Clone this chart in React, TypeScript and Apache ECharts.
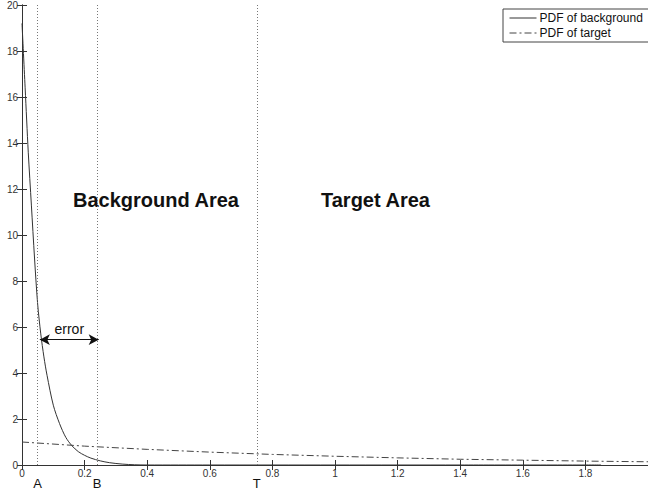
import React, { useEffect, useRef } from "react";
import * as echarts from "echarts";

const FONT = "'Liberation Sans', Arial, sans-serif";

// PDF of background
const bgX = [0, 0.01, 0.02, 0.03, 0.04, 0.05, 0.06, 0.07, 0.08, 0.1, 0.12, 0.14, 0.16, 0.18, 0.2, 0.22, 0.25, 0.28, 0.32, 0.36, 0.4, 0.6, 1.0, 1.4, 1.85];
const bgY = [19.2, 16.4, 13.6, 11.3, 9.0, 7.0, 5.7, 4.7, 3.9, 2.6, 1.8, 1.2, 0.83, 0.58, 0.42, 0.3, 0.18, 0.1, 0.04, 0.01, 0, 0, 0, 0, 0];

// PDF of target
const tgX = [0, 0.2, 0.4, 0.6, 0.8, 1.0, 1.2, 1.4, 1.6, 1.8, 2.0];
const tgY = [1.0, 0.82, 0.68, 0.56, 0.46, 0.38, 0.31, 0.25, 0.21, 0.17, 0.14];

// Threshold markers
const markNames = ["A", "B", "T"];
const markX = [0.05, 0.245, 0.75];

// error arrow
const errorFrom = [0.057, 5.45];
const errorTo = [0.245, 5.45];

const seriesNames = ["PDF of background", "PDF of target"];

export default function App() {
  const ref = useRef<HTMLDivElement>(null);
  useEffect(() => {
    const chart = echarts.init(ref.current!, null, { renderer: "svg" });
    const axisLine = { show: true, lineStyle: { color: "#333", width: 1 } };
    const option: any = {
      animation: false,
      backgroundColor: "#fff",
      textStyle: { fontFamily: FONT },
      grid: { left: 22, top: 5, width: 630, height: 460, containLabel: false },
      legend: {
        left: 503,
        top: 9,
        orient: "vertical",
        itemWidth: 27,
        itemHeight: 10,
        itemGap: 3,
        padding: [3, 8, 3, 6],
        backgroundColor: "#fff",
        borderColor: "#444",
        borderWidth: 1,
        borderRadius: 0,
        itemStyle: { opacity: 0 },
        lineStyle: { width: 1 },
        textStyle: { fontFamily: FONT, fontSize: 12, color: "#111", padding: [0, 0, 0, -2] },
        data: seriesNames,
      },
      xAxis: [
        {
          type: "value",
          min: 0,
          max: 2,
          interval: 0.2,
          position: "bottom",
          axisLine,
          axisTick: { show: true, inside: true, length: 5, lineStyle: { color: "#333" } },
          axisLabel: {
            fontFamily: FONT,
            fontSize: 10,
            color: "#333",
            margin: 3,
            showMaxLabel: false,
          },
          splitLine: { show: false },
        },
        {
          type: "value",
          min: 0,
          max: 2,
          interval: 0.2,
          position: "top",
          axisLine,
          axisTick: { show: true, inside: true, length: 5, lineStyle: { color: "#333" } },
          axisLabel: { show: false },
          splitLine: { show: false },
        },
      ],
      yAxis: [
        {
          type: "value",
          min: 0,
          max: 20,
          interval: 2,
          position: "left",
          axisLine,
          axisTick: { show: true, inside: true, length: 5, lineStyle: { color: "#333" } },
          axisLabel: { fontFamily: FONT, fontSize: 10, color: "#333", margin: 4 },
          splitLine: { show: false },
        },
        {
          type: "value",
          min: 0,
          max: 20,
          interval: 2,
          position: "right",
          axisLine,
          axisTick: { show: true, inside: true, length: 5, lineStyle: { color: "#333" } },
          axisLabel: { show: false },
          splitLine: { show: false },
        },
      ],
      series: [
        {
          name: seriesNames[0],
          type: "line",
          symbol: "none",
          smooth: 0.3,
          data: bgX.map((x, i) => [x, bgY[i]]),
          lineStyle: { color: "#333", width: 1 },
          itemStyle: { color: "#333" },
          z: 3,
          markLine: {
            silent: true,
            symbol: "none",
            lineStyle: { type: [1, 2], color: "#777", width: 1 },
            label: { show: false },
            data: markNames.map((n, i) => ({
              xAxis: markX[i],
              label: {
                show: true,
                position: "start",
                distance: 12,
                formatter: n,
                fontFamily: FONT,
                fontSize: 13,
                color: "#111",
              },
            })),
          },
        },
        {
          name: seriesNames[1],
          type: "line",
          symbol: "none",
          data: tgX.map((x, i) => [x, tgY[i]]),
          lineStyle: { color: "#444", width: 1, type: [7, 3, 2, 3] },
          itemStyle: { color: "#444" },
          markLine: {
            silent: true,
            symbol: ["arrow", "arrow"],
            symbolSize: [8, 10],
            lineStyle: { type: "solid", color: "#111", width: 1 },
            label: {
              show: true,
              position: "middle",
              formatter: "error",
              fontFamily: FONT,
              fontSize: 14,
              color: "#111",
              distance: 4,
            },
            data: [[{ coord: errorFrom }, { coord: errorTo }]],
          },
        },
      ],
      graphic: [
        {
          type: "text",
          left: 73,
          top: 190,
          style: { text: "Background Area", font: `bold 20px ${FONT}`, fill: "#111" },
        },
        {
          type: "text",
          left: 321,
          top: 190,
          style: { text: "Target Area", font: `bold 20px ${FONT}`, fill: "#111" },
        },
      ],
    };
    chart.setOption(option);
    return () => chart.dispose();
  }, []);
  return (
    <div
      ref={ref}
      style={{ position: "fixed", left: 0, top: 0, width: 648, height: 492, background: "#fff" }}
    />
  );
}
